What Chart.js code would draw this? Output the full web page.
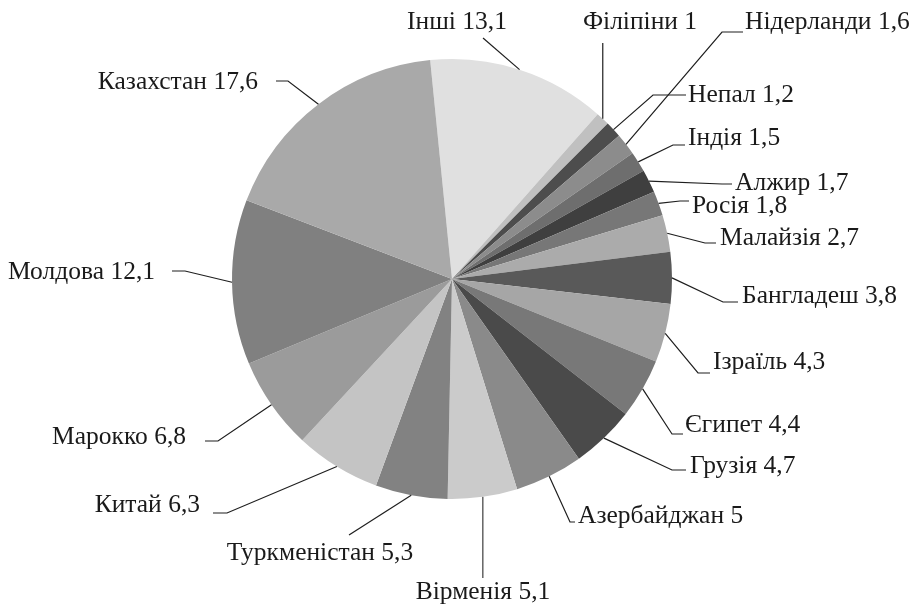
<!DOCTYPE html>
<html>
<head>
<meta charset="utf-8">
<script src="https://cdn.jsdelivr.net/npm/chart.js@4/dist/chart.umd.min.js"></script>
<style>
  html, body { margin: 0; padding: 0; background: #fff; }
  #wrap { width: 914px; height: 607px; position: relative; }
</style>
</head>
<body>
<div id="wrap"><canvas id="pieChart"></canvas></div>
<script>
// дані
const countries = ['Інші', 'Філіпіни', 'Непал', 'Нідерланди', 'Індія', 'Алжир', 'Росія', 'Малайзія',
    'Бангладеш', 'Ізраїль', 'Єгипет', 'Грузія', 'Азербайджан', 'Вірменія', 'Туркменістан',
    'Китай', 'Марокко', 'Молдова', 'Казахстан'];
const shares = [13.1, 1, 1.2, 1.6, 1.5, 1.7, 1.8, 2.7, 3.8, 4.3, 4.4, 4.7, 5, 5.1, 5.3, 6.3, 6.8, 12.1, 17.6];
const shareText = ['13,1', '1', '1,2', '1,6', '1,5', '1,7', '1,8', '2,7', '3,8', '4,3', '4,4', '4,7', '5', '5,1', '5,3', '6,3', '6,8', '12,1', '17,6'];

const sliceColors = ['#e0e0e0', '#c0c0c0', '#4d4d4d', '#8c8c8c', '#6e6e6e', '#3f3f3f', '#777777', '#ababab',
    '#595959', '#a6a6a6', '#787878', '#4a4a4a', '#8a8a8a', '#cbcbcb', '#828282',
    '#c4c4c4', '#9b9b9b', '#808080', '#a9a9a9'];

// розміщення підписів відносно центру кола: текст, вирівнювання, ламана виноски
// v: true - вертикальна виноска від краю сектора
const labelLayout = [
    { t: [5, -257], a: 'center', p: [[31, -241]] },
    { t: [188, -257], a: 'center', p: [[0, -236]], v: true },
    { t: [236, -184], a: 'left', p: [[201, -184], [234, -184]] },
    { t: [293, -257], a: 'left', p: [[270, -247], [291, -247]] },
    { t: [236, -141], a: 'left', p: [[221, -134], [233, -134]] },
    { t: [283, -96], a: 'left', p: [[270, -95], [280, -95]] },
    { t: [240, -73], a: 'left', p: [[228, -78], [237, -78]] },
    { t: [268, -41], a: 'left', p: [[253, -36], [264, -36]] },
    { t: [290, 17], a: 'left', p: [[271, 23], [286, 23]] },
    { t: [261, 83], a: 'left', p: [[246, 94], [258, 94]] },
    { t: [233, 146], a: 'left', p: [[220, 155], [231, 155]] },
    { t: [238, 187], a: 'left', p: [[220, 191], [234, 191]] },
    { t: [126, 237], a: 'left', p: [[118, 243], [123, 243]] },
    { t: [31, 313], a: 'center', p: [[0, 299]], v: true },
    { t: [-132, 274], a: 'center', p: [[-103, 256]] },
    { t: [-252, 226], a: 'right', p: [[-225, 234], [-239, 234]] },
    { t: [-266, 158], a: 'right', p: [[-234, 162], [-247, 162]] },
    { t: [-297, -7], a: 'right', p: [[-267, -8], [-280, -8]] },
    { t: [-194, -197], a: 'right', p: [[-164, -198], [-176, -198]] }
];

// підписи з виносками
const leaderLabels = {
    id: 'leaderLabels',
    afterDraw(chart) {
        const ctx = chart.ctx;
        const meta = chart.getDatasetMeta(0);
        ctx.save();
        ctx.font = '25.5px "Liberation Serif", "Times New Roman", Times, "DejaVu Serif", serif';
        ctx.textBaseline = 'middle';
        meta.data.forEach((arc, i) => {
            const p = arc.getProps(['x', 'y', 'startAngle', 'endAngle', 'outerRadius'], true);
            const mid = (p.startAngle + p.endAngle) / 2;
            const sx = p.x + Math.cos(mid) * p.outerRadius;
            const sy = p.y + Math.sin(mid) * p.outerRadius;
            const lay = labelLayout[i];
            ctx.beginPath();
            ctx.moveTo(sx, sy);
            lay.p.forEach(pt => {
                const px = lay.v ? sx : p.x + pt[0];
                ctx.lineTo(px, p.y + pt[1]);
            });
            ctx.strokeStyle = i === 13 ? '#6a6a6a' : '#1e1e1e';
            ctx.lineWidth = i === 13 ? 1.6 : 1.2;
            ctx.stroke();
            ctx.fillStyle = '#1a1a1a';
            ctx.textAlign = lay.a;
            ctx.fillText(countries[i] + ' ' + shareText[i], p.x + lay.t[0], p.y + lay.t[1]);
        });
        ctx.restore();
    }
};

new Chart(document.getElementById('pieChart'), {
    type: 'pie',
    data: {
        labels: countries,
        datasets: [{
            data: shares,
            backgroundColor: sliceColors,
            borderWidth: 0
        }]
    },
    options: {
        responsive: true,
        maintainAspectRatio: false,
        animation: false,
        rotation: -5.7,
        layout: {
            padding: { left: 232, right: 242, top: 59, bottom: 108 }
        },
        plugins: {
            legend: { display: false },
            tooltip: { enabled: false }
        }
    },
    plugins: [leaderLabels]
});
</script>
</body>
</html>
